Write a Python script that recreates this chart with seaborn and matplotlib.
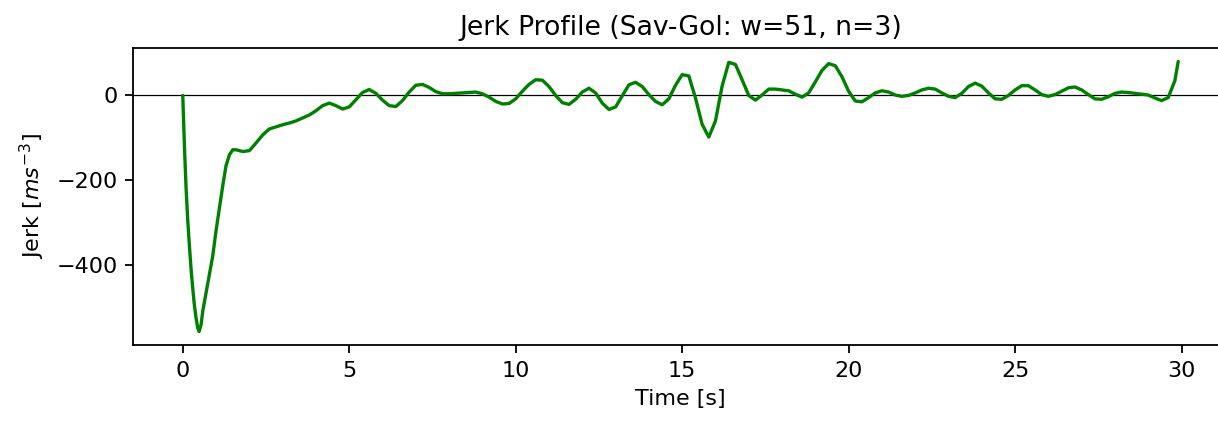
import numpy as np
import pandas as pd
import matplotlib
matplotlib.use("Agg")
import matplotlib.pyplot as plt
import seaborn as sns

# Onset of the run: finer sampling around the large negative spike
onset_time = [0.0, 0.05, 0.1, 0.15, 0.2, 0.25, 0.3, 0.35, 0.4, 0.45, 0.49,
              0.55, 0.6, 0.7, 0.8, 0.9, 1.0, 1.1, 1.2, 1.3, 1.4, 1.5]
onset_jerk = [0, -120, -220, -295, -355, -410, -455, -495, -525, -548, -556,
              -540, -508, -465, -421, -378, -318, -265, -213, -165, -140, -128]

# Remainder of the run, sampled every 0.2 s from 1.6 s to 29.8 s, then the last sample
main_time = list(np.round(np.arange(1.6, 29.8 + 1e-9, 0.2), 2)) + [29.9]
main_jerk = [
    -128, -132, -130, -112, -93, -79, -74, -69, -65, -60,      # 1.6 - 3.4
    -53, -46, -36, -24, -18, -24, -32, -27, -10, 7,            # 3.6 - 5.4
    14, 5, -11, -24, -26, -12, 8, 24, 26, 19,                  # 5.6 - 7.4
    9, 4, 4, 5, 6, 7, 8, 4, -4, -14,                           # 7.6 - 9.4
    -20, -19, -8, 10, 26, 37, 36, 21, 0, -17,                  # 9.6 - 11.4
    -21, -9, 8, 17, 6, -18, -33, -27, -1, 25,                  # 11.6 - 13.4
    31, 21, 2, -14, -22, -8, 24, 49, 46, -6,                   # 13.6 - 15.4
    -68, -98, -60, 22, 78, 73, 37, 0, -11, 1,                  # 15.6 - 17.4
    15, 15, 13, 11, 3, -4, 6, 32, 59, 75,                      # 17.6 - 19.4
    70, 44, 10, -13, -15, -5, 6, 11, 8, 1,                     # 19.6 - 21.4
    -2, 0, 6, 13, 17, 15, 6, -2, -5, 5,                        # 21.6 - 23.4
    21, 29, 22, 6, -8, -9, 0, 13, 23, 23,                      # 23.6 - 25.4
    13, 2, -2, 2, 10, 18, 20, 13, 2, -8,                       # 25.6 - 27.4
    -9, -3, 5, 8, 7, 5, 3, 1, -6, -12,                         # 27.6 - 29.4
    -5, 35, 80,                                                # 29.6 - 29.9
]

x_ticks = [0, 5, 10, 15, 20, 25, 30]
y_ticks = [-400, -200, 0]

df = pd.DataFrame({
    "time": list(onset_time) + list(main_time),
    "jerk": onset_jerk + main_jerk,
})

sns.set_theme(style="ticks")
plt.rcParams["font.family"] = ["DejaVu Sans"]
plt.rcParams["mathtext.fontset"] = "dejavusans"
for key in ["text.color", "axes.labelcolor", "xtick.color", "ytick.color",
            "xtick.labelcolor", "ytick.labelcolor"]:
    plt.rcParams[key] = "black"

fig = plt.figure(figsize=(12.18, 4.21), dpi=100)
ax = fig.add_axes([0.1092, 0.1805, 0.899, 0.7055])

ax.axhline(0, color="black", linewidth=0.9, zorder=1)
sns.lineplot(data=df, x="time", y="jerk", color="#008000", linewidth=2.4,
             ax=ax, zorder=2, sort=False)

ax.set_xticks(x_ticks)
ax.set_yticks(y_ticks)
ax.set_xticklabels([str(v) for v in x_ticks])
ax.set_yticklabels([f"\u2212{abs(v)}" if v < 0 else str(v) for v in y_ticks])
ax.tick_params(axis="both", labelsize=16, length=5.6, width=1.3,
               color="black", labelcolor="black", direction="out", pad=5.6)

ax.set_xlabel("Time [s]", fontsize=16, labelpad=6.4)
ax.set_ylabel(r"Jerk [$ms^{-3}$]", fontsize=16, labelpad=6.4)
ax.set_title("Jerk Profile (Sav-Gol: w=51, n=3)", fontsize=19.2, pad=9.6)

for side in ["left", "bottom", "top", "right"]:
    ax.spines[side].set_visible(True)
    ax.spines[side].set_color("black")
    ax.spines[side].set_linewidth(1.3)

ax.margins(x=0.05, y=0.05)
ax.grid(False)

fig.savefig("out.png", dpi=100)
